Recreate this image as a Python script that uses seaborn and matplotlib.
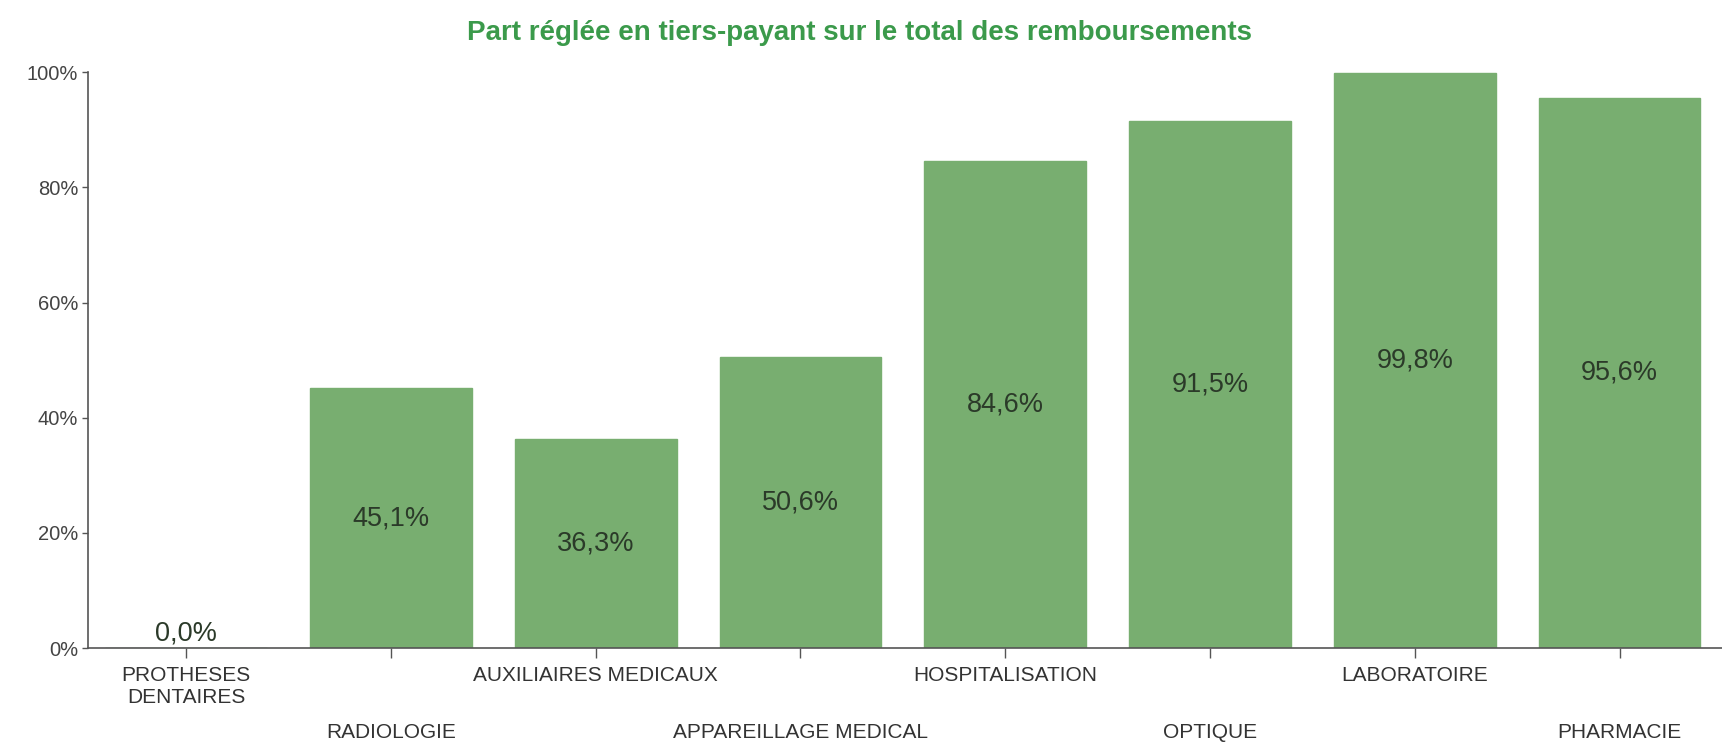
import matplotlib
matplotlib.use("Agg")
import matplotlib.pyplot as plt
import pandas as pd
import seaborn as sns
from matplotlib.ticker import FuncFormatter

categories = ["PROTHESES\nDENTAIRES", "RADIOLOGIE", "AUXILIAIRES MEDICAUX",
              "APPAREILLAGE MEDICAL", "HOSPITALISATION", "OPTIQUE",
              "LABORATOIRE", "PHARMACIE"]
values = [0.0, 45.1, 36.3, 50.6, 84.6, 91.5, 99.8, 95.6]
title = "Part réglée en tiers-payant sur le total des remboursements"

d = pd.DataFrame({"cat": categories, "val": values})

sns.set_style("white")
plt.rcParams["font.family"] = ["Liberation Sans", "DejaVu Sans"]

fig = plt.figure(figsize=(17.22, 7.44), dpi=100)
ax = fig.add_axes([0.051, 0.129, 0.949, 0.774])

bar_col = "#78ae70"
sns.barplot(ax=ax, data=d, x="cat", y="val", hue="cat",
            palette=[bar_col] * len(categories), legend=False,
            width=0.79, saturation=1, edgecolor=bar_col)

ax.set_xlim(-0.48, 7.5)
ax.set_ylim(0, 100)
ax.set_yticks([0, 20, 40, 60, 80, 100])
ax.yaxis.set_major_formatter(FuncFormatter(lambda v, p: f"{v:.0f}%"))
ax.set_xlabel("")
ax.set_ylabel("")

# value labels in the middle of each bar
for i, v in enumerate(values):
    y = v / 2 if v > 0 else 2.5
    ax.text(i, y, f"{v:.1f}%".replace(".", ","), ha="center", va="center",
            fontsize=19.5, color="#2b3a29")

for s in ["top", "right"]:
    ax.spines[s].set_visible(False)
for s in ["left", "bottom"]:
    ax.spines[s].set_color("#555555")
    ax.spines[s].set_linewidth(1.2)

ax.tick_params(axis="y", left=True, length=4, width=1, color="#555555",
               labelsize=14.5, labelcolor="#444444", pad=3)
ax.tick_params(axis="x", bottom=True, length=7, width=1, color="#555555",
               labelsize=15, labelcolor="#333333", pad=6)

# staggered category labels
for i, t in enumerate(ax.xaxis.get_major_ticks()):
    if i % 2 == 1:
        t.set_pad(47)

fig.text(0.499, 0.956, title, ha="center", va="center", fontsize=20,
         fontweight="bold", color="#3b9a4b")

fig.savefig("out.png", dpi=100)
